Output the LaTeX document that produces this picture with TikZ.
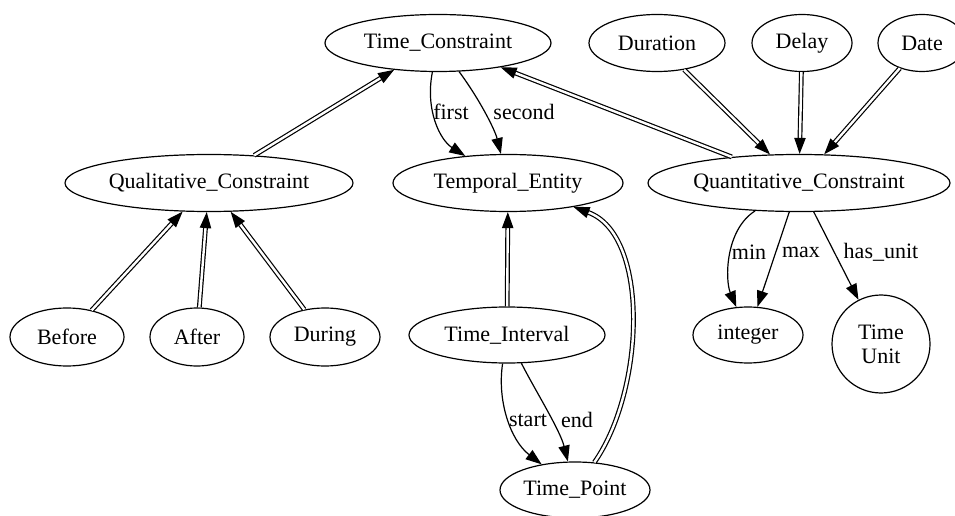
\documentclass[tikz,border=0pt]{standalone}
\usepackage{fontspec}
\setmainfont{Liberation Serif}
\usetikzlibrary{arrows.meta,shapes.geometric}
\begin{document}
\begin{tikzpicture}[x=0.75pt,y=-0.75pt,
  every node/.style={font=\fontsize{16.5}{18}\selectfont},
  ell/.style 2 args={draw,ellipse,line width=0.9pt,inner sep=0pt,
    minimum width={2*#1*0.75pt},minimum height={2*#2*0.75pt}},
  circ/.style={draw,circle,line width=0.9pt,inner sep=0pt,align=center,
    minimum size={2*#1*0.75pt}},
  rel/.style={line width=0.9pt,-{Triangle[length=12pt,width=8.5pt]}},
  isa/.style={rel,double,double distance=1.8pt},
  lbl/.style={inner sep=1pt}]
\useasboundingbox (0,0) rectangle (955,516);
% nodes
\node[ell={113}{28.5}] (tc) at (438,43) {Time\_Constraint};
\node[ell={68}{28.5}] (dur) at (657,43) {Duration};
\node[ell={50}{28.5}] (del) at (802,43) {Delay};
\node[ell={44}{28.5}] (dat) at (922,43) {Date};
\node[ell={144}{28.5}] (qual) at (209,183) {Qualitative\_Constraint};
\node[ell={115}{28.5}] (te) at (508,183) {Temporal\_Entity};
\node[ell={151}{28.5}] (quan) at (799,183) {Quantitative\_Constraint};
\node[ell={57}{29}] (bef) at (67,337) {Before};
\node[ell={47}{29}] (aft) at (197,337) {After};
\node[ell={55}{29}] (dur2) at (325,337) {During};
\node[ell={98}{28}] (ti) at (507,335) {Time\_Interval};
\node[ell={75}{28}] (tp) at (575,490) {Time\_Point};
\node[ell={55}{28}] (int) at (748,335) {integer};
\node[circ=49] (tu) at (881,344) {Time\\Unit};
% is-a edges
\draw[isa] (qual) -- (tc);
\draw[isa] (quan) -- (tc);
\draw[isa] (dur) -- (quan);
\draw[isa] (del) -- (quan);
\draw[isa] (dat) -- (quan);
\draw[isa] (bef) -- (qual);
\draw[isa] (aft) -- (qual);
\draw[isa] (dur2) -- (qual);
\draw[isa] (ti) -- (te);
\draw[isa] (tp) .. controls (645,390) and (650,235) .. (te);
% relations
\draw[rel] (tc) .. controls (425,110) and (440,140) .. (te);
\draw[rel] (tc) .. controls (480,100) and (495,130) .. (te);
\draw[rel] (ti) .. controls (497,400) and (510,440) .. (tp);
\draw[rel] (ti) .. controls (535,390) and (560,430) .. (tp);
\draw[rel] (quan) .. controls (725,230) and (725,280) .. (int);
\draw[rel] (quan) -- (int);
\draw[rel] (quan) -- (tu);
% labels
\node[lbl] (lfirst) at (451,112) {first};
\node[lbl] (lsecond) at (524,112) {second};
\node[lbl] (lstart) at (528,420) {start};
\node[lbl] (lend) at (577,420) {end};
\node[lbl] (lmin) at (749,252) {min};
\node[lbl] (lmax) at (801,252) {max};
\node[lbl] (lunit) at (881,252) {has\_unit};
\end{tikzpicture}
\end{document}
